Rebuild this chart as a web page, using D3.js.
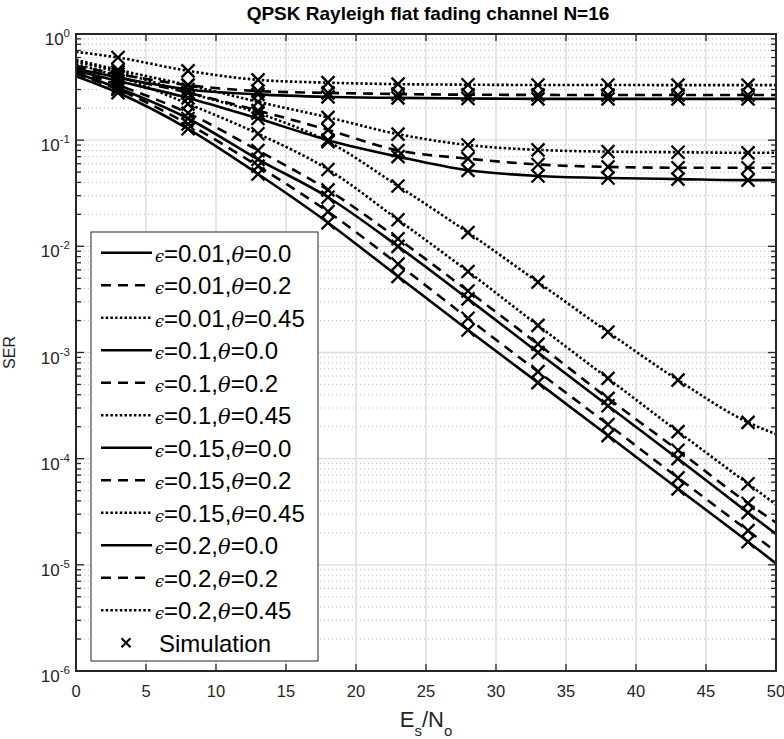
<!DOCTYPE html>
<html>
<head>
<meta charset="utf-8">
<script src="https://d3js.org/d3.v7.min.js"></script>
<style>
  body { margin: 0; background: #fff; }
  svg { display: block; font-family: "Liberation Sans", Arial, sans-serif; }
</style>
</head>
<body>
<div id="chart"></div>
<script>
// x positions (Es/No in dB) of the curve points and of the simulation markers
const snrLine = [0, 3, 8, 13, 18, 23, 28, 33, 38, 43, 48, 50];
const snrSim = [3, 8, 13, 18, 23, 28, 33, 38, 43, 48];

// SER, one array per curve (values at snrLine)
const e001t00 = [0.40, 0.28, 0.128, 0.048, 0.0167, 0.0052, 0.00163, 5.2e-4, 1.65e-4, 5.2e-5, 1.65e-5, 1.03e-5];
const e001t02 = [0.42, 0.30, 0.142, 0.057, 0.0212, 0.0068, 0.0021, 6.6e-4, 2.1e-4, 6.6e-5, 2.1e-5, 1.33e-5];
const e001t045 = [0.52, 0.40, 0.22, 0.115, 0.053, 0.0178, 0.0058, 0.0018, 5.7e-4, 1.8e-4, 5.8e-5, 3.7e-5];
const e01t00 = [0.43, 0.31, 0.16, 0.066, 0.029, 0.0100, 0.0032, 0.0010, 3.15e-4, 1.0e-4, 3.1e-5, 1.95e-5];
const e01t02 = [0.45, 0.33, 0.18, 0.080, 0.034, 0.0118, 0.0038, 0.0012, 3.7e-4, 1.2e-4, 3.8e-5, 2.5e-5];
const e01t045 = [0.55, 0.44, 0.28, 0.18, 0.097, 0.037, 0.0135, 0.0046, 0.00156, 5.5e-4, 2.2e-4, 1.7e-4];
const e015t00 = [0.45, 0.36, 0.25, 0.16, 0.100, 0.070, 0.052, 0.046, 0.044, 0.043, 0.042, 0.042];
const e015t02 = [0.48, 0.39, 0.28, 0.19, 0.125, 0.080, 0.067, 0.059, 0.056, 0.055, 0.055, 0.055];
const e015t045 = [0.57, 0.46, 0.33, 0.23, 0.164, 0.114, 0.090, 0.081, 0.078, 0.077, 0.076, 0.076];
const e02t00 = [0.47, 0.39, 0.30, 0.27, 0.256, 0.250, 0.247, 0.245, 0.245, 0.245, 0.245, 0.245];
const e02t02 = [0.50, 0.42, 0.33, 0.29, 0.279, 0.272, 0.268, 0.267, 0.266, 0.266, 0.266, 0.266];
const e02t045 = [0.68, 0.60, 0.45, 0.37, 0.348, 0.337, 0.333, 0.331, 0.331, 0.330, 0.330, 0.330];

const epsLabels = ["0.01", "0.1", "0.15", "0.2"];
const thetaLabels = ["0.0", "0.2", "0.45"];
const xTicks = [0, 5, 10, 15, 20, 25, 30, 35, 40, 45, 50];
const yExps = [0, -1, -2, -3, -4, -5, -6];

const curves = [e001t00, e001t02, e001t045, e01t00, e01t02, e01t045,
                e015t00, e015t02, e015t045, e02t00, e02t02, e02t045];

const W = 784, H = 739;
const pL = 76, pR = 776, pT = 34, pB = 671;

const svg = d3.select("#chart").append("svg")
    .attr("width", W).attr("height", H);

const x = d3.scaleLinear().domain([0, 50]).range([pL, pR]);
const y = d3.scaleLog().domain([1e-6, 1]).range([pB, pT]);

// dash style for each theta
const dashFor = t => t === 0 ? null : (t === 1 ? "10,7" : "2.5,2.2");

// grid: minor horizontal dotted
const minor = [];
for (let e = -6; e < 0; e++) for (let m = 2; m <= 9; m++) minor.push(m * Math.pow(10, e));
svg.append("g").selectAll("line").data(minor).join("line")
    .attr("x1", pL).attr("x2", pR)
    .attr("y1", d => y(d)).attr("y2", d => y(d))
    .attr("stroke", "#bdbdbd").attr("stroke-width", 1)
    .attr("stroke-dasharray", "1,3");

// grid: major
const grid = svg.append("g").attr("stroke", "#dcdcdc").attr("stroke-width", 1.4);
grid.selectAll(".gx").data(xTicks.slice(1, -1)).join("line")
    .attr("x1", d => x(d)).attr("x2", d => x(d))
    .attr("y1", pT).attr("y2", pB);
grid.selectAll(".gy").data(yExps.slice(1, -1)).join("line")
    .attr("x1", pL).attr("x2", pR)
    .attr("y1", d => y(Math.pow(10, d))).attr("y2", d => y(Math.pow(10, d)));

// curves
const line = d3.line()
    .x((d, i) => x(snrLine[i]))
    .y(d => y(d))
    .curve(d3.curveMonotoneX);

const plot = svg.append("g");
curves.forEach((c, k) => {
  plot.append("path")
      .datum(c)
      .attr("d", line)
      .attr("fill", "none")
      .attr("stroke", "#000")
      .attr("stroke-width", 2.6)
      .attr("stroke-dasharray", dashFor(k % 3));
});

// simulation markers
const ms = 6.5;
curves.forEach(c => {
  const pts = snrSim.map(s => [x(s), y(c[snrLine.indexOf(s)])]);
  plot.append("g").selectAll("path").data(pts).join("path")
      .attr("d", d => `M${d[0] - ms},${d[1] - ms}L${d[0] + ms},${d[1] + ms}M${d[0] - ms},${d[1] + ms}L${d[0] + ms},${d[1] - ms}`)
      .attr("stroke", "#000").attr("stroke-width", 2.3).attr("fill", "none");
});

// axes box and ticks
const ax = svg.append("g").attr("stroke", "#262626").attr("stroke-width", 1.3);
xTicks.forEach(t => {
  ax.append("line").attr("x1", x(t)).attr("x2", x(t)).attr("y1", pB).attr("y2", pB - 7);
  ax.append("line").attr("x1", x(t)).attr("x2", x(t)).attr("y1", pT).attr("y2", pT + 7);
});
yExps.forEach(e => {
  const yy = y(Math.pow(10, e));
  ax.append("line").attr("x1", pL).attr("x2", pL + 8).attr("y1", yy).attr("y2", yy);
  ax.append("line").attr("x1", pR).attr("x2", pR - 8).attr("y1", yy).attr("y2", yy);
});
minor.forEach(v => {
  const yy = y(v);
  ax.append("line").attr("x1", pL).attr("x2", pL + 5).attr("y1", yy).attr("y2", yy);
  ax.append("line").attr("x1", pR).attr("x2", pR - 5).attr("y1", yy).attr("y2", yy);
});
svg.append("rect")
    .attr("x", pL).attr("y", pT)
    .attr("width", pR - pL).attr("height", pB - pT)
    .attr("fill", "none").attr("stroke", "#262626").attr("stroke-width", 2);

// tick labels
svg.append("g").selectAll("text").data(xTicks).join("text")
    .attr("x", d => x(d)).attr("y", pB + 26)
    .attr("text-anchor", "middle")
    .attr("font-size", 16.5).attr("fill", "#262626")
    .text(d => d);

const yl = svg.append("g").selectAll("text").data(yExps).join("text")
    .attr("x", 70).attr("y", d => y(Math.pow(10, d)) + 11)
    .attr("text-anchor", "end")
    .attr("font-size", 17).attr("fill", "#262626");
yl.append("tspan").text("10");
yl.append("tspan").attr("font-size", 11.5).attr("dy", -8).text(d => d);

// title and axis labels
svg.append("text")
    .attr("x", (pL + pR) / 2 + 2).attr("y", 20)
    .attr("text-anchor", "middle")
    .attr("font-size", 19).attr("font-weight", "bold").attr("fill", "#000")
    .text("QPSK Rayleigh flat fading channel N=16");

svg.append("text")
    .attr("transform", `translate(15,${(pT + pB) / 2}) rotate(-90)`)
    .attr("text-anchor", "middle")
    .attr("font-size", 16).attr("fill", "#262626")
    .text("SER");

const xl = svg.append("text")
    .attr("x", (pL + pR) / 2).attr("y", 727)
    .attr("text-anchor", "middle")
    .attr("font-size", 22).attr("fill", "#262626");
xl.append("tspan").text("E");
xl.append("tspan").attr("font-size", 15).attr("dy", 9).text("s");
xl.append("tspan").attr("dy", -9).text("/N");
xl.append("tspan").attr("font-size", 15).attr("dy", 9).text("o");

// legend
const lgX = 91, lgY = 232, lgW = 227, lgH = 429;
const lg = svg.append("g");
lg.append("rect")
    .attr("x", lgX).attr("y", lgY).attr("width", lgW).attr("height", lgH)
    .attr("fill", "#fff").attr("stroke", "#262626").attr("stroke-width", 1);

const entries = [];
epsLabels.forEach(e => thetaLabels.forEach((t, j) => entries.push({ e, t, j })));
const row0 = 252.7, rowH = 32.5;

entries.forEach((d, i) => {
  const yy = row0 + i * rowH;
  lg.append("line")
      .attr("x1", 101).attr("x2", 152).attr("y1", yy).attr("y2", yy)
      .attr("stroke", "#000").attr("stroke-width", 2.6)
      .attr("stroke-dasharray", dashFor(d.j));
  const t = lg.append("text")
      .attr("x", 155).attr("y", yy + 9)
      .attr("font-size", 24).attr("fill", "#000");
  t.append("tspan").attr("font-family", "DejaVu Serif").attr("font-style", "italic")
      .attr("font-size", 16).text("\u03f5");
  t.append("tspan").text("=" + d.e + ",");
  t.append("tspan").attr("font-family", "DejaVu Serif").attr("font-style", "italic")
      .attr("font-size", 21).text("\u03b8");
  t.append("tspan").text("=" + d.t);
});

const simY = row0 + 12 * rowH;
const sx = 126, sm = 4.5;
lg.append("path")
    .attr("d", `M${sx - sm},${simY - sm}L${sx + sm},${simY + sm}M${sx - sm},${simY + sm}L${sx + sm},${simY - sm}`)
    .attr("stroke", "#000").attr("stroke-width", 2.2);
lg.append("text")
    .attr("x", 159).attr("y", simY + 9)
    .attr("font-size", 24).attr("fill", "#000")
    .text("Simulation");
</script>
</body>
</html>
